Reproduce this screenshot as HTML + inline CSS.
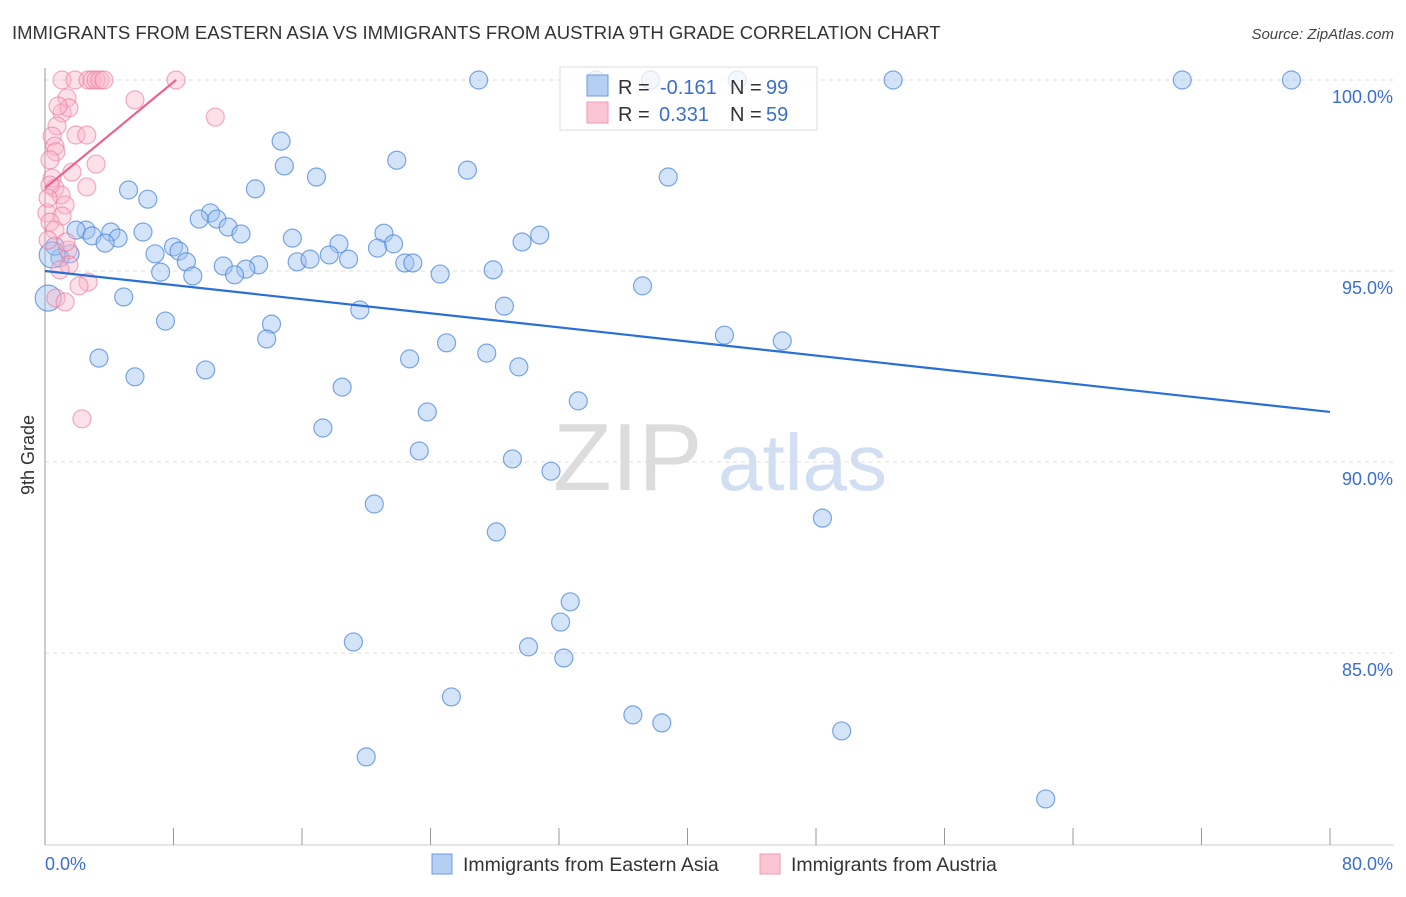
<!DOCTYPE html>
<html><head><meta charset="utf-8">
<style>
body{margin:0;background:#fff;font-family:"Liberation Sans",sans-serif;}
svg text{font-family:"Liberation Sans",sans-serif;}
</style></head>
<body>
<svg id="chart" width="1406" height="892" xmlns="http://www.w3.org/2000/svg">
<text x="12" y="39" font-size="18.5" fill="#333">IMMIGRANTS FROM EASTERN ASIA VS IMMIGRANTS FROM AUSTRIA 9TH GRADE CORRELATION CHART</text>
<text x="1394" y="39" font-size="15" fill="#444" text-anchor="end" font-style="italic">Source: ZipAtlas.com</text>
<g>
<text x="553" y="490" font-size="96" fill="#d4d4d4" font-family="Liberation Serif, serif" opacity="0.8">ZIP</text>
<text x="718" y="490" font-size="80" fill="#c7d7ef" opacity="0.8">atlas</text>
</g>
<g id="grid"></g>
<g id="axes"></g>
<g id="pts-blue"></g>
<g id="pts-pink"></g>
<g id="trends"></g>
<text transform="translate(34,455) rotate(-90)" font-size="18" fill="#333" text-anchor="middle">9th Grade</text>
<g>
<rect x="560" y="67" width="257" height="63" fill="#fff" fill-opacity="0.75" stroke="#ddd"/>
<rect x="587" y="75" width="21" height="21" fill="#b5cff3" stroke="#6b9be0"/>
<rect x="587" y="102" width="21" height="21" fill="#fac6d4" stroke="#f09ab3"/>
<text x="618" y="94" font-size="20" fill="#333">R = </text><text x="660" y="94" font-size="20" fill="#3a6fd0">-0.161</text>
<text x="730" y="94" font-size="20" fill="#333">N = </text><text x="766" y="94" font-size="20" fill="#3a6fd0">99</text>
<text x="618" y="121" font-size="20" fill="#333">R = </text><text x="659" y="121" font-size="20" fill="#3a6fd0">0.331</text>
<text x="730" y="121" font-size="20" fill="#333">N = </text><text x="766" y="121" font-size="20" fill="#3a6fd0">59</text>
</g>
<g>
<g><rect x="432" y="854" width="20" height="20" fill="#b5cff3" stroke="#6b9be0"/><text x="463" y="871" font-size="19.5" fill="#333">Immigrants from Eastern Asia</text></g>
<g><rect x="760" y="854" width="20" height="20" fill="#fac6d4" stroke="#f09ab3"/><text x="791" y="871" font-size="19.5" fill="#333">Immigrants from Austria</text></g>
</g>
</svg>
<script>
const blueX=[27.0,37.7,43.1,52.8,70.8,77.6,34.3,14.7,21.9,14.9,26.3,38.8,16.9,5.2,13.1,6.4,10.3,9.6,10.7,11.4,2.55,4.1,1.93,6.1,2.93,12.2,4.55,3.74,15.4,21.1,30.8,29.7,18.3,21.7,20.7,8.0,8.34,6.85,1.56,0.93,0.62,15.7,16.5,17.7,18.9,22.4,22.9,8.8,11.1,13.3,12.5,7.2,9.2,11.8,24.6,27.9,37.2,4.9,28.6,19.6,7.5,14.1,13.8,42.3,45.9,25.0,27.5,22.7,3.36,29.5,10.0,5.6,18.5,33.2,23.8,17.3,23.3,29.1,31.5,20.5,48.4,28.1,32.7,32.1,30.1,19.2,32.3,25.3,36.6,38.4,49.6,20.0,62.3,0.2,0.45];
const blueY=[100,100,100,100,100,100,100,98.4,97.9,97.75,97.64,97.46,97.46,97.12,97.15,96.88,96.52,96.36,96.36,96.15,96.07,96.02,96.07,96.02,95.92,95.97,95.86,95.73,95.86,95.99,95.94,95.76,95.71,95.71,95.6,95.63,95.52,95.45,95.45,95.34,95.65,95.24,95.31,95.42,95.31,95.21,95.21,95.24,95.13,95.16,95.05,94.97,94.87,94.9,94.92,95.03,94.61,94.32,94.08,93.98,93.69,93.61,93.22,93.32,93.17,93.12,92.85,92.7,92.72,92.49,92.41,92.23,91.96,91.6,91.31,90.89,90.29,90.08,89.76,88.9,88.53,88.17,86.34,85.81,85.16,85.29,84.87,83.85,83.38,83.17,82.96,82.28,81.18,94.29,95.42];
const blueBig=[0,0,0,0,0,0,0,0,0,0,0,0,0,0,0,0,0,0,0,0,0,0,0,0,0,0,0,0,0,0,0,0,0,0,0,0,0,0,0,0,0,0,0,0,0,0,0,0,0,0,0,0,0,0,0,0,0,0,0,0,0,0,0,0,0,0,0,0,0,0,0,0,0,0,0,0,0,0,0,0,0,0,0,0,0,0,0,0,0,0,0,0,0,1,1];
const pinkX=[1.06,1.87,2.68,2.93,3.18,3.42,3.67,8.16,5.6,10.6,1.37,1.06,1.49,0.81,0.75,0.44,1.93,2.6,0.62,0.68,0.31,3.18,0.44,1.68,2.6,0.62,1.0,1.25,0.12,1.06,0.31,0.62,0.31,0.19,1.43,1.49,0.93,2.68,2.12,0.68,1.25,2.3,0.19,1.31];
const pinkY=[100,100,100,100,100,100,100,100,99.48,99.03,99.53,99.14,99.27,99.32,98.8,98.53,98.56,98.56,98.27,98.12,97.91,97.8,97.43,97.59,97.2,97.17,96.99,96.73,96.52,96.44,96.28,96.07,97.25,96.91,95.55,95.16,95.03,94.71,94.61,94.29,94.19,91.13,95.81,95.76];
const blueTrend=[[0,95.0],[80,91.31]];
const pinkTrend=[[0,97.17],[8.16,100]];
const yTicks=[100,95,90,85];
const xTickVals=[0,8,16,24,32,40,48,56,64,72,80];
const xLabels=[[0,"0.0%"],[80,"80.0%"]];

const X0=45,X1=1330,Y100=80,PXY=38.2;
const sx=v=>X0+(X1-X0)*v/80;
const sy=v=>Y100+(100-v)*PXY;
const NS="http://www.w3.org/2000/svg";
function mk(tag,attrs,parent){const e=document.createElementNS(NS,tag);for(const k in attrs)e.setAttribute(k,attrs[k]);parent.appendChild(e);return e;}
const grid=document.getElementById('grid'),axes=document.getElementById('axes');
yTicks.forEach(t=>{
  const l=mk('line',{x1:X0,x2:1394,y1:sy(t),y2:sy(t),stroke:'#ddd','stroke-dasharray':'4,4'},grid);
  
  
  const tx=mk('text',{x:1393,y:sy(t)+23,'font-size':18,fill:'#3a6fd0','text-anchor':'end'},axes);
  tx.textContent=t.toFixed(1)+'%';
  
  
});
const ya=mk('line',{x1:X0,x2:X0,y1:68,y2:845,stroke:'#999'},axes);


const xa=mk('line',{x1:X0,x2:1394,y1:845,y2:845,stroke:'#ccc'},axes);


xTickVals.forEach(t=>{
  const l=mk('line',{x1:sx(t),x2:sx(t),y1:828,y2:845,stroke:'#999'},axes);
  
  
});
xLabels.forEach(([v,s],i)=>{
  const tx=mk('text',{x:i?sx(v)+63:sx(v),y:870,'font-size':18,fill:'#3a6fd0','text-anchor':i?'end':'start'},axes);
  tx.textContent=s;
  
  
});
const gb=document.getElementById('pts-blue');
blueX.forEach((v,i)=>{
  const c=mk('circle',{cx:sx(v),cy:sy(blueY[i]),r:blueBig[i]?13:9,fill:'rgba(160,195,240,0.45)',stroke:'rgba(70,130,220,0.7)','stroke-width':1.2},gb);
  
  
});
const gp=document.getElementById('pts-pink');
pinkX.forEach((v,i)=>{
  const c=mk('circle',{cx:sx(v),cy:sy(pinkY[i]),r:9,fill:'rgba(250,180,200,0.4)',stroke:'rgba(235,120,155,0.6)','stroke-width':1.2},gp);
  
  
});
const gt=document.getElementById('trends');
const bl=mk('line',{x1:sx(blueTrend[0][0]),y1:sy(blueTrend[0][1]),x2:sx(blueTrend[1][0]),y2:sy(blueTrend[1][1]),stroke:'#2a6fd6','stroke-width':2.2},gt);


const pl=mk('line',{x1:sx(pinkTrend[0][0]),y1:sy(pinkTrend[0][1]),x2:sx(pinkTrend[1][0]),y2:sy(pinkTrend[1][1]),stroke:'#e8658f','stroke-width':2.2},gt);


</script>
</body></html>
